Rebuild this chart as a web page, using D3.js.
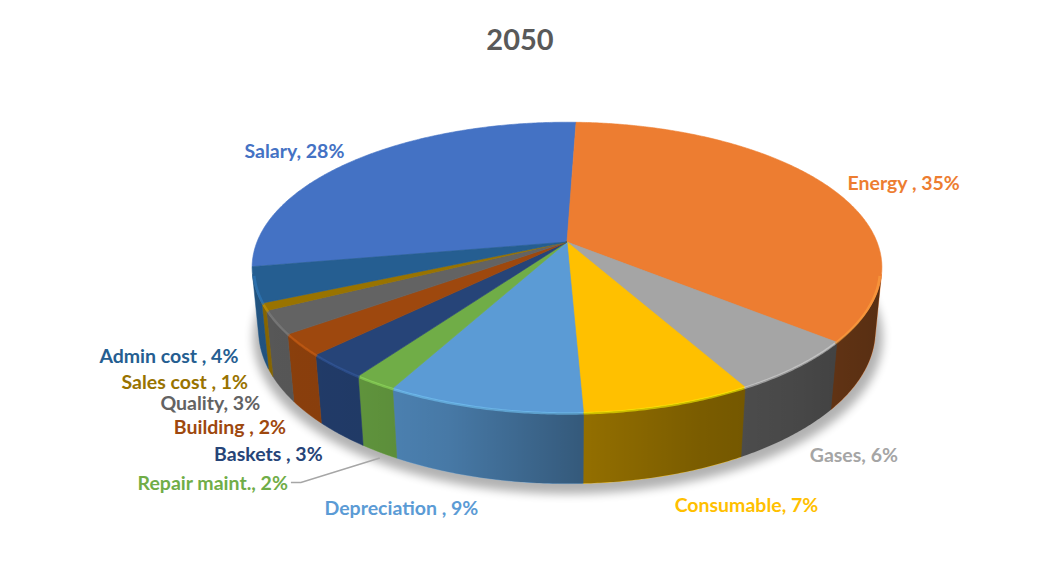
<!DOCTYPE html>
<html lang="en">
<head>
    <meta charset="UTF-8">
    <title>2050</title>
    <script src="https://cdnjs.cloudflare.com/ajax/libs/d3/7.8.2/d3.min.js"></script>
    <style>
        html, body { margin: 0; padding: 0; background: #fff; }
        #chart { font-family: Lato, "Open Sans", sans-serif; }
    </style>
</head>
<body>
    <div id="chart"></div>

    <script>
        // data, in the order Excel plots it (Salary first)
        const categories = ["Salary", "Energy ", "Gases", "Consumable", "Depreciation ", "Repair maint.",
                            "Baskets ", "Building ", "Quality", "Sales cost ", "Admin cost "];
        const values = [28.3, 35.4, 6.0, 7.4, 8.6, 1.9, 2.8, 2.4, 2.6, 0.8, 3.9];
        const colors = ["#4472C4", "#ED7D31", "#A5A5A5", "#FFC000", "#5B9BD5", "#70AD47",
                        "#264478", "#9E480E", "#636363", "#997300", "#255E91"];
        const chartTitle = "2050";

        const width = 1040, height = 581;
        const cx = 567, cy = 242;            // projected pie centre
        const tilt = 27 * Math.PI / 180;     // camera elevation
        const dist = 5.09, focal = 1578;     // perspective (radius = 1)
        const depth = 0.23;                  // pie thickness
        const firstAngle = 260.2 * Math.PI / 180;

        // label moved out with a leader line: offset from its natural spot
        const leaderOffsets = { "Repair maint.": [-76, 8] };

        function project(theta, r, y) {
            const x = r * Math.sin(theta), z = -r * Math.cos(theta);
            const yr = y * Math.cos(tilt) - z * Math.sin(tilt);
            const zr = y * Math.sin(tilt) + z * Math.cos(tilt);
            const s = focal / (dist - zr);
            return [cx + x * s, cy - yr * s];
        }

        function rim(a, b, r, y) {
            const step = Math.PI / 360;
            const pts = d3.range(a, b, step).map(t => project(t, r, y));
            pts.push(project(b, r, y));
            return pts;
        }

        const line = d3.line();

        const svg = d3.select("#chart").append("svg")
            .attr("width", width)
            .attr("height", height);

        const defs = svg.append("defs");

        defs.append("filter")
            .attr("id", "soft")
            .attr("x", "-20%").attr("y", "-20%")
            .attr("width", "140%").attr("height", "140%")
            .append("feGaussianBlur")
            .attr("stdDeviation", 5);

        // side shading: darker towards the right
        const shade = defs.append("linearGradient")
            .attr("id", "sideShade")
            .attr("gradientUnits", "userSpaceOnUse")
            .attr("x1", cx - 315).attr("x2", cx + 315)
            .attr("y1", 0).attr("y2", 0);
        [[0, 0.12], [0.17, 0.15], [0.31, 0.22], [0.52, 0.42], [0.71, 0.52], [0.87, 0.57], [1, 0.63]]
            .forEach(([o, a]) => shade.append("stop")
                .attr("offset", o)
                .attr("stop-color", "#000")
                .attr("stop-opacity", a));

        svg.append("text")
            .attr("x", width / 2)
            .attr("y", 38)
            .attr("text-anchor", "middle")
            .attr("dominant-baseline", "central")
            .attr("fill", "#595959")
            .style("font-size", "29px")
            .style("font-weight", "bold")
            .text(chartTitle);

        const pie = d3.pie().sort(null)
            .startAngle(firstAngle)
            .endAngle(firstAngle + 2 * Math.PI);
        const arcs = pie(values).map((d, i) => ({ ...d, name: categories[i], color: colors[i] }));
        const total = d3.sum(values);

        // shadow under the base
        svg.append("path")
            .attr("d", line(rim(0, 2 * Math.PI, 1.02, -depth)) + "Z")
            .attr("transform", "translate(1,6)")
            .attr("fill", "#000")
            .attr("opacity", 0.3)
            .attr("filter", "url(#soft)");

        // visible part of the outer wall
        const lo = Math.acos(-1 / (dist * Math.cos(tilt)));
        const hi = 2 * Math.PI - lo;

        function visiblePart(d) {
            for (const k of [0, 2 * Math.PI]) {
                const a = Math.max(d.startAngle, lo + k), b = Math.min(d.endAngle, hi + k);
                if (b > a) return [a, b];
            }
            return null;
        }

        const sides = svg.append("g");
        arcs.forEach(d => {
            const part = visiblePart(d);
            if (!part) return;
            const [a, b] = part;
            const pts = rim(a, b, 1, 0).concat(rim(a, b, 1, -depth).reverse());
            sides.append("path")
                .attr("d", line(pts) + "Z")
                .attr("fill", d.color)
                .attr("stroke", d.color)
                .attr("stroke-width", 0.5);
        });
        sides.append("path")
            .attr("d", line(rim(lo, hi, 1, 0).concat(rim(lo, hi, 1, -depth).reverse())) + "Z")
            .attr("fill", "url(#sideShade)");

        // top faces
        const tops = svg.append("g");
        arcs.forEach(d => {
            const pts = [[cx, cy]].concat(rim(d.startAngle, d.endAngle, 1, 0));
            tops.append("path")
                .attr("d", line(pts) + "Z")
                .attr("fill", d.color)
                .attr("stroke", d.color)
                .attr("stroke-width", 0.6);
        });

        // bevel highlight along the front edge
        arcs.forEach(d => {
            const part = visiblePart(d);
            if (!part) return;
            tops.append("path")
                .attr("d", line(rim(part[0], part[1], 0.995, -0.006)))
                .attr("fill", "none")
                .attr("stroke", d3.color(d.color).brighter(0.8))
                .attr("stroke-opacity", 0.55)
                .attr("stroke-width", 2.5);
        });

        // data labels
        const labels = svg.append("g")
            .style("font-size", "19.5px")
            .style("font-weight", "bold");

        const placed = arcs.map(d => {
            const mid = (d.startAngle + d.endAngle) / 2;
            const front = Math.cos(mid) < 0;
            const [ax, ay] = project(mid, 1.07, front ? -depth : 0);
            const len = Math.hypot(ax - cx, ay - cy);
            const ux = (ax - cx) / len, uy = (ay - cy) / len;

            const text = labels.append("text")
                .attr("fill", d.color)
                .attr("dominant-baseline", "central")
                .text(`${d.name}, ${Math.round(d.value / total * 100)}%`);
            const w = text.node().getComputedTextLength();

            return {
                d, mid, text, w,
                x: ax + (w / 2) * Math.max(-1, Math.min(1, ux * 4)),
                y: ay + 8 * uy + (front ? 8 * Math.pow(Math.cos(mid), 4) : 0)
            };
        });

        // keep the stacked labels on the left from touching
        const left = placed.filter(p => Math.sin(p.mid) < -0.3 && Math.cos(p.mid) < 0)
            .sort((a, b) => a.y - b.y);
        for (let i = 1; i < left.length; i++) {
            left[i].y = Math.max(left[i].y, left[i - 1].y + 21);
        }

        placed.forEach(p => {
            const off = leaderOffsets[p.d.name];
            if (off) {
                p.x += off[0];
                p.y += off[1];
                const [px, py] = project(p.mid, 1.0, -depth - 0.02);
                svg.append("polyline")
                    .attr("points", [[p.x + p.w / 2 + 3, p.y], [p.x + p.w / 2 + 13, p.y], [px, py]].join(" "))
                    .attr("fill", "none")
                    .attr("stroke", "#a6a6a6")
                    .attr("stroke-width", 1.5);
            }
            p.text.attr("x", p.x - p.w / 2).attr("y", p.y);
        });
    </script>
</body>
</html>
